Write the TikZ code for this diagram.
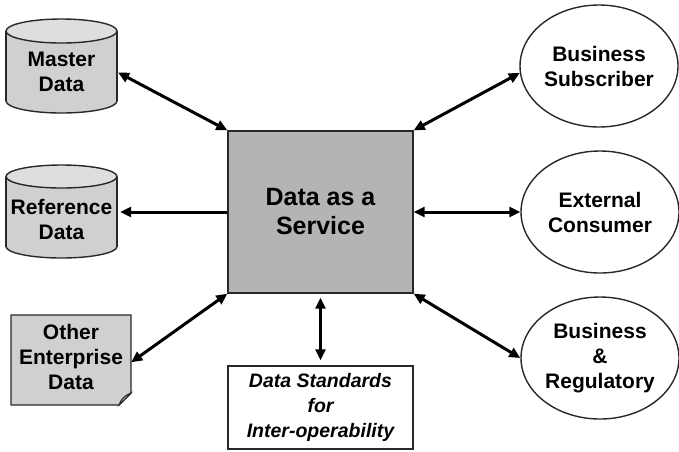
\documentclass[tikz,border=0pt]{standalone}
\usepackage{fontspec}
\setmainfont{Liberation Sans}
\usetikzlibrary{shapes.geometric,arrows.meta}
\definecolor{cylfill}{RGB}{208,208,208}
\definecolor{cyltop}{RGB}{222,222,222}
\definecolor{boxfill}{RGB}{180,180,180}
\definecolor{edge}{RGB}{40,40,40}
\begin{document}
\begin{tikzpicture}[x=1pt,y=-1pt,
  lbl/.style={font=\fontsize{21}{25}\selectfont\bfseries, align=center, text=black, inner sep=0pt},
  outl/.style={draw=edge, line width=1.4pt},
  ell/.style={ellipse, outl, fill=white, minimum width=158pt, minimum height=122pt, inner sep=0pt, lbl},
  arr/.style={line width=3pt, draw=black, {Triangle[length=11pt,width=10pt]}-{Triangle[length=11pt,width=10pt]}},
  arrone/.style={line width=3pt, draw=black, -{Triangle[length=11pt,width=10pt]}}]
\useasboundingbox (0,0) rectangle (679,451);

% Master Data cylinder
\fill[cylfill, draw=edge, line width=1.4pt] (61.5,101) ellipse [x radius=55.5pt, y radius=12pt];
\fill[cylfill] (6,31) rectangle (117,101);
\draw[outl] (6,31) -- (6,101) (117,31) -- (117,101);
\fill[cyltop, draw=edge, line width=1.4pt] (61.5,31) ellipse [x radius=55.5pt, y radius=12pt];
\node[lbl, minimum width=111pt, minimum height=60pt] (md) at (61.5,72) {Master\\Data};

% Reference Data cylinder
\fill[cylfill, draw=edge, line width=1.4pt] (61.5,246.5) ellipse [x radius=55.5pt, y radius=11.5pt];
\fill[cylfill] (6,176.5) rectangle (117,246.5);
\draw[outl] (6,176.5) -- (6,246.5) (117,176.5) -- (117,246.5);
\fill[cyltop, draw=edge, line width=1.4pt] (61.5,176.5) ellipse [x radius=55.5pt, y radius=11.5pt];
\node[lbl, minimum width=111pt, minimum height=60pt] (rd) at (61.5,219) {Reference\\Data};

% Other Enterprise Data (note with dog-ear)
\draw[outl, fill=cylfill] (11,315) -- (131,315) -- (131,393) -- (119,405) -- (11,405) -- cycle;
\draw[edge, line width=1pt, fill=gray!60] (131,393) -- (119,405) .. controls (121,399) and (124,396) .. cycle;
\node[lbl, minimum width=120pt, minimum height=90pt] (oed) at (71,357) {Other\\Enterprise\\Data};

% Central box
\node[outl, fill=boxfill, minimum width=185pt, minimum height=162pt, inner sep=0pt,
      font=\fontsize{25}{29}\selectfont\bfseries, align=center] (daas) at (320.5,212) {Data as a\\Service};

% Data standards box
\node[outl, fill=white, minimum width=185pt, minimum height=83pt, inner sep=0pt,
      font=\fontsize{19.5}{25}\selectfont\bfseries\itshape, align=center] (ds) at (320.5,407.5) {Data Standards\\for\\Inter-operability};

% Ellipses
\node[ell] (bs) at (599,66) {Business\\Subscriber};
\node[ell] (ec) at (600,212) {External\\Consumer};
\node[ell, align=center] (br) at (600,358) {Business\\\&\\Regulatory};

% Connectors
\draw[arr, shorten <=1pt] (md.east) -- (daas.north west);
\draw[arrone, shorten >=3pt] (daas.west) -- (daas.west -| rd.east);
\draw[arr] (oed.-5) -- (daas.south west);
\draw[arr, shorten <=4pt, shorten >=5pt] (daas.south) -- (ds.north);
\draw[arr] (daas.north east) -- (bs.185);
\draw[arr] (daas.east) -- (ec.west);
\draw[arr] (daas.south east) -- (br.west);
\end{tikzpicture}
\end{document}
